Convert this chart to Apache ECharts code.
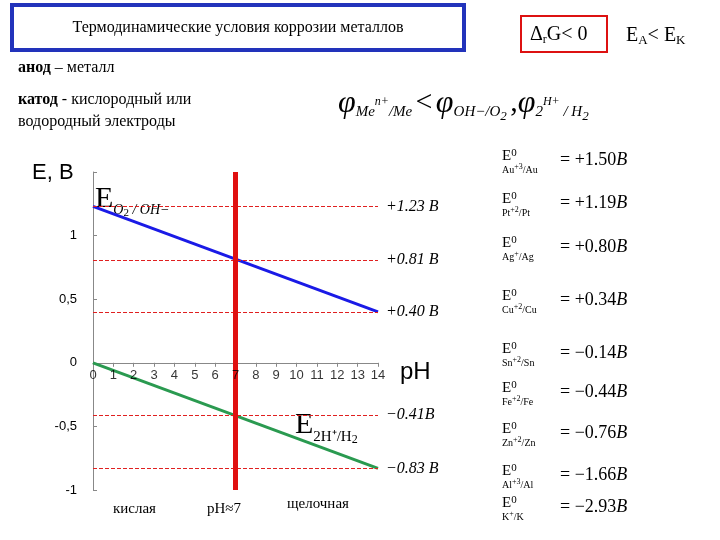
<!DOCTYPE html>
<html><head><meta charset="utf-8">
<script src="https://cdn.jsdelivr.net/npm/echarts@6/dist/echarts.min.js"></script>
<style>html,body{margin:0;padding:0;background:#fff}#c{width:720px;height:540px}</style>
</head><body><div id="c"></div>
<script>
const phTicks = [0,1,2,3,4,5,6,7,8,9,10,11,12,13,14];
const o2Line = [[0,1.23],[14,0.40]];
const h2Line = [[0,0],[14,-0.83]];
const levels = [1.23,0.81,0.40,-0.41,-0.83];
const levelLabels = ['+1.23 В','+0.81 В','+0.40 В','\u22120.41В','\u22120.83 В'];
const couples = [['Au','+3','Au'],['Pt','+2','Pt'],['Ag','+','Ag'],['Cu','+2','Cu'],['Sn','+2','Sn'],['Fe','+2','Fe'],['Zn','+2','Zn'],['Al','+3','Al'],['K','+','K']];
const potentials = ['+1.50','+1.19','+0.80','+0.34','\u22120.14','\u22120.44','\u22120.76','\u22121.66','\u22122.93'];
const potY = [163,206,250,303,356,395,436,478,510];

const T = 'Liberation Serif';
const chart = echarts.init(document.getElementById('c'));
const graphics = [
  {type:'rect',shape:{x:12,y:5,width:452,height:45},style:{fill:'none',stroke:'#2233bb',lineWidth:4}},
  {type:'text',x:238,y:28,style:{text:'Термодинамические условия коррозии металлов',font:'16px '+T,fill:'#000',align:'center',verticalAlign:'middle'}},
  {type:'rect',shape:{x:521,y:16,width:86,height:36},style:{fill:'none',stroke:'#dd1111',lineWidth:2}},
  {type:'text',x:530,y:24,style:{text:'{a|\u0394}{s|r}{a|G< 0}',rich:{a:{font:'20px '+T,fill:'#000'},s:{font:'12px '+T,fill:'#000',padding:[10,0,0,0]}}}},
  {type:'text',x:626,y:24,style:{text:'{a|E}{s|A}{a|< E}{s|K}',rich:{a:{font:'20px '+T,fill:'#000'},s:{font:'13px '+T,fill:'#000',padding:[10,0,0,0]}}}},
  {type:'text',x:18,y:60,style:{text:'{b|анод} – металл',rich:{b:{font:'bold 16px '+T,fill:'#000'}},font:'16px '+T,fill:'#000'}},
  {type:'text',x:18,y:92,style:{text:'{b|катод} - кислородный или',rich:{b:{font:'bold 16px '+T,fill:'#000'}},font:'16px '+T,fill:'#000'}},
  {type:'text',x:18,y:114,style:{text:'водородный электроды',font:'16px '+T,fill:'#000'}},
  {type:'text',x:338,y:84,style:{text:'{p|\u03c6}{s|Me}{u|n+}{s|/Me} {a|<} {p|\u03c6}{s|OH\u2212/O}{t|2} {a|,}{p|\u03c6}{s|2}{u|H+}{s| / H}{t|2}',
    rich:{p:{font:'italic 32px '+T,fill:'#000'},a:{font:'30px '+T,fill:'#000'},s:{font:'italic 15px '+T,fill:'#000',padding:[18,0,0,0]},t:{font:'italic 13px '+T,fill:'#000',padding:[26,0,0,0]},u:{font:'italic 12px '+T,fill:'#000',padding:[0,0,4,0]}}}},
  {type:'text',x:32,y:162,style:{text:'E, B',font:'22px Liberation Sans',fill:'#000'}},
  {type:'text',x:400,y:360,style:{text:'pH',font:'24px Liberation Sans',fill:'#000'}},
  {type:'text',x:95,y:180,style:{text:'{a|E}{s|O}{t|2}{s| / OH\u2212}',rich:{a:{font:'30px '+T,fill:'#000'},s:{font:'italic 14px '+T,fill:'#000',padding:[22,0,0,0]},t:{font:'11px '+T,fill:'#000',padding:[28,0,0,0]}},backgroundColor:'#fff'}},
  {type:'text',x:295,y:404,style:{text:'{a|E}{s|2H\u207a/H}{t|2}',rich:{a:{font:'30px '+T,fill:'#000'},s:{font:'15px '+T,fill:'#000',padding:[24,0,0,0]},t:{font:'12px '+T,fill:'#000',padding:[30,0,0,0]}}}},
  {type:'text',x:113,y:502,style:{text:'кислая',font:'15px '+T,fill:'#000'}},
  {type:'text',x:207,y:502,style:{text:'pH\u22487',font:'15px '+T,fill:'#000'}},
  {type:'text',x:287,y:497,style:{text:'щелочная',font:'15px '+T,fill:'#000'}}
];
couples.forEach((c,i)=>{
  graphics.push({type:'text',x:502,y:potY[i]-14,style:{
    text:'{e|E}{z|0}\n{s|'+c[0]+'}{u|'+c[1]+'}{s|/'+c[2]+'}',
    rich:{e:{font:'15px '+T,fill:'#000'},z:{font:'11px '+T,fill:'#000',padding:[0,0,6,0]},s:{font:'10px '+T,fill:'#000'},u:{font:'8px '+T,fill:'#000',padding:[0,0,6,0]}},lineHeight:14}});
  graphics.push({type:'text',x:560,y:potY[i]-12,style:{text:'= '+potentials[i]+'{i|B}',rich:{i:{font:'italic 18px '+T,fill:'#000'}},font:'18px '+T,fill:'#000'}});
});

chart.setOption({
  animation:false,
  grid:{left:93,right:342,top:172,bottom:50},
  xAxis:{type:'value',min:0,max:14,interval:1,axisLine:{onZero:true,lineStyle:{color:'#888'}},axisTick:{show:true,length:4,lineStyle:{color:'#888'}},
    axisLabel:{show:false},splitLine:{show:false}},
  yAxis:{type:'value',min:-1,max:1.5,interval:0.5,axisLine:{show:true,lineStyle:{color:'#888'}},axisTick:{show:true,inside:true,length:4,lineStyle:{color:'#888'}},
    axisLabel:{color:'#000',fontSize:13,fontFamily:'Liberation Sans',margin:16,formatter:v=>v>1.2?'':String(v).replace('.',',')},splitLine:{show:false}},
  series:[
    {type:'line',data:o2Line,symbol:'none',lineStyle:{color:'#1a1ae6',width:3},
      markLine:{symbol:'none',silent:true,lineStyle:{color:'#e02020',type:'dashed',width:1},
        label:{position:'end',distance:8,formatter:p=>levelLabels[levels.indexOf(p.value)],fontStyle:'italic',fontSize:16,fontFamily:T,color:'#000'},
        data:levels.map(v=>({yAxis:v}))}},
    {type:'line',data:h2Line,symbol:'none',lineStyle:{color:'#2a9a50',width:3}},
    {type:'line',data:[[7,-1],[7,1.5]],symbol:'none',lineStyle:{color:'#e01010',width:5},z:5},
    {type:'scatter',data:phTicks.map(v=>[v,0]),symbolSize:0,silent:true,z:6,
      label:{show:true,position:'bottom',distance:6,formatter:p=>String(p.value[0]),fontSize:13,fontFamily:'Liberation Sans',color:'#000'}}
  ],
  graphic:graphics
});
</script></body></html>
